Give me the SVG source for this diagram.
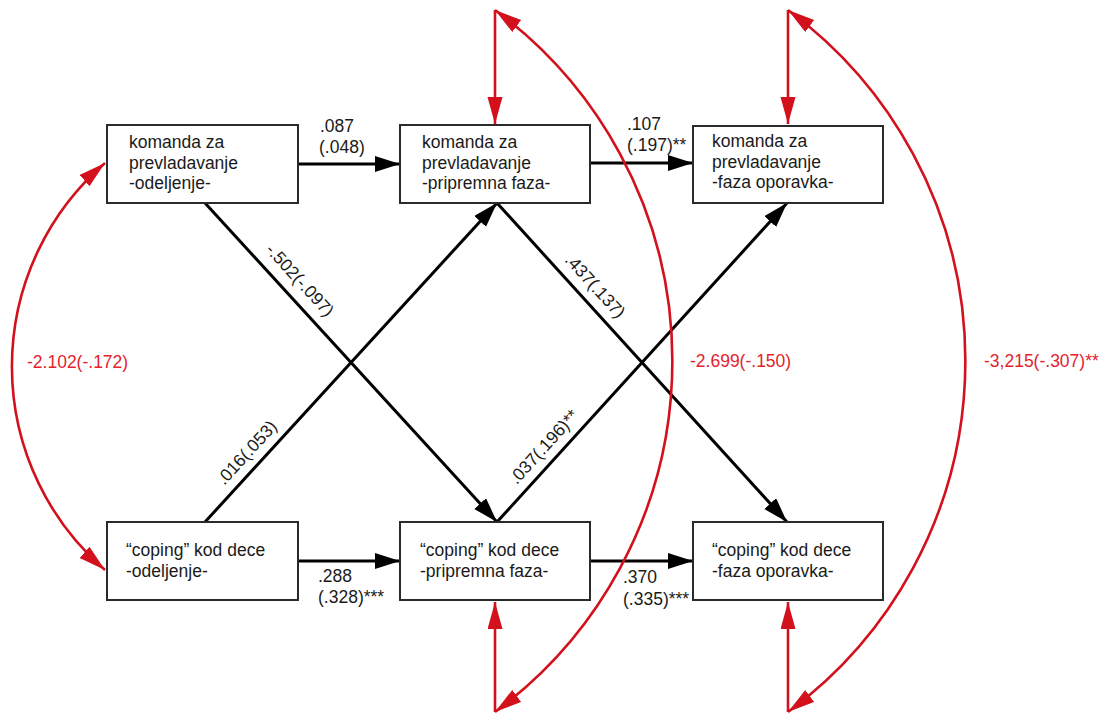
<svg xmlns="http://www.w3.org/2000/svg" width="1104" height="717" viewBox="0 0 1104 717">
<style>
text{font-family:"Liberation Sans",Arial,sans-serif;font-size:17.5px;fill:#1a1a1a}
.box{fill:#fff;stroke:#2a2a2a;stroke-width:2}
.blk{fill:none;stroke:#000;stroke-width:3}
.red{fill:none;stroke:#d3111d;stroke-width:2.6}
.rt{fill:#e3232d}
</style>
<defs>
<marker id="ab" markerUnits="userSpaceOnUse" markerWidth="26" markerHeight="18" refX="25" refY="8" orient="auto-start-reverse">
<path d="M0,0 L25,8 L0,16 z" fill="#000"/>
</marker>
<marker id="ar" markerUnits="userSpaceOnUse" markerWidth="28" markerHeight="16" refX="27" refY="7.5" orient="auto-start-reverse">
<path d="M0,0 L27,7.5 L0,15 z" fill="#d3111d"/>
</marker>
</defs>
<rect width="1104" height="717" fill="#fff"/>
<g id="connectors">
<path class="blk" d="M298,164 L400,164" marker-end="url(#ab)"/>
<path class="blk" d="M590,163 L693,163" marker-end="url(#ab)"/>
<path class="blk" d="M298,561 L400,561" marker-end="url(#ab)"/>
<path class="blk" d="M590,561 L693,561" marker-end="url(#ab)"/>
<path class="blk" d="M205,203 L497,522" marker-end="url(#ab)"/>
<path class="blk" d="M205,522 L497,203" marker-end="url(#ab)"/>
<path class="blk" d="M497,203 L787,522" marker-end="url(#ab)"/>
<path class="blk" d="M497,522 L787,203" marker-end="url(#ab)"/>
<path class="red" d="M105,163 A269,269 0 0 0 105,570" marker-start="url(#ar)" marker-end="url(#ar)"/>
<path class="red" d="M495,10 A436,436 0 0 1 495,712" marker-start="url(#ar)" marker-end="url(#ar)"/>
<path class="red" d="M788,10 A436,436 0 0 1 788,712" marker-start="url(#ar)" marker-end="url(#ar)"/>
<path class="red" d="M495,10 L495,124" marker-end="url(#ar)"/>
<path class="red" d="M495,712 L495,602" marker-end="url(#ar)"/>
<path class="red" d="M788,10 L788,124" marker-end="url(#ar)"/>
<path class="red" d="M788,712 L788,602" marker-end="url(#ar)"/>
<text x="320" y="132">.087</text>
<text x="319" y="153">(.048)</text>
<text x="627" y="130">.107</text>
<text x="627" y="151">(.197)**</text>
<text x="318" y="582">.288</text>
<text x="318" y="603">(.328)***</text>
<text x="623" y="583">.370</text>
<text x="623" y="605">(.335)***</text>
<text x="295.6" y="284.2" text-anchor="middle" transform="rotate(47.5 295.6 284.2)">-.502(-.097)</text>
<text x="251.1" y="456.7" text-anchor="middle" transform="rotate(-47.5 251.1 456.7)">.016(.053)</text>
<text x="590.8" y="289.9" text-anchor="middle" transform="rotate(47.7 590.8 289.9)">.437(.137)</text>
<text x="548.2" y="450.8" text-anchor="middle" transform="rotate(-47.7 548.2 450.8)">.037(.196)**</text>
<text class="rt" x="27" y="368">-2.102(-.172)</text>
<text class="rt" x="690" y="367">-2.699(-.150)</text>
<text class="rt" x="984" y="367">-3,215(-.307)**</text>
</g>
<g id="n1">
<rect class="box" x="107" y="125" width="191" height="78"/>
<text x="129" y="148">komanda za</text>
<text x="129" y="168.5">prevladavanje</text>
<text x="129" y="189">-odeljenje-</text>
</g>
<g id="n2">
<rect class="box" x="400" y="125" width="190" height="78"/>
<text x="422" y="148">komanda za</text>
<text x="422" y="168.5">prevladavanje</text>
<text x="422" y="189">-pripremna faza-</text>
</g>
<g id="n3">
<rect class="box" x="693" y="126" width="190" height="77"/>
<text x="712" y="147">komanda za</text>
<text x="712" y="167.5">prevladavanje</text>
<text x="712" y="188">-faza oporavka-</text>
</g>
<g id="n4">
<rect class="box" x="107" y="522" width="191" height="78"/>
<text x="126" y="556">“coping” kod dece</text>
<text x="126" y="577">-odeljenje-</text>
</g>
<g id="n5">
<rect class="box" x="400" y="522" width="190" height="78"/>
<text x="420" y="556">“coping” kod dece</text>
<text x="420" y="577">-pripremna faza-</text>
</g>
<g id="n6">
<rect class="box" x="693" y="522" width="190" height="78"/>
<text x="712" y="556">“coping” kod dece</text>
<text x="712" y="577">-faza oporavka-</text>
</g>
</svg>
